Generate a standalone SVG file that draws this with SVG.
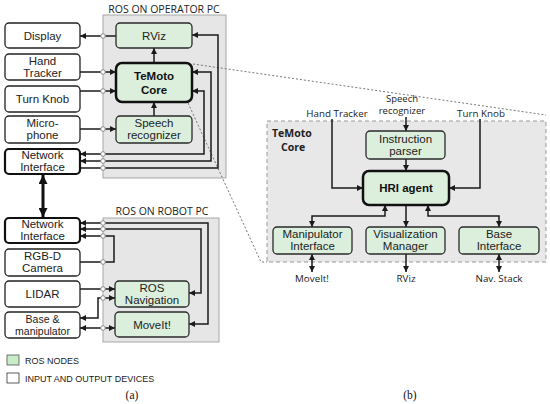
<svg xmlns="http://www.w3.org/2000/svg" width="550" height="404" viewBox="0 0 550 404">
<style>
.bg{fill:#fff}
.panel{fill:#e6e6e6;stroke:#a8a8a8;stroke-width:1}
.dev{fill:#fff;stroke:#222;stroke-width:1.3}
.devb{fill:#fff;stroke:#111;stroke-width:2.2}
.ros{fill:#dcefdc;stroke:#2a2a2a;stroke-width:1.3}
.rosb{fill:#dcefdc;stroke:#111;stroke-width:2.5}
.t{font-family:"Liberation Sans",Arial,sans-serif;font-size:11.5px;fill:#222;text-anchor:middle}
.tb{font-family:"Liberation Sans",Arial,sans-serif;font-size:11.5px;font-weight:bold;fill:#111;text-anchor:middle}
.title{font-family:"Open Sans",sans-serif;font-size:10.5px;fill:#222;text-anchor:middle}
.ext{font-family:"Open Sans",sans-serif;font-size:9.8px;fill:#222;text-anchor:middle}
.leg{font-family:"Liberation Sans",Arial,sans-serif;font-size:9px;fill:#222}
.cap{font-family:"Liberation Serif","Times New Roman",serif;font-size:11.5px;fill:#111;text-anchor:middle}
.c{fill:none;stroke:#1a1a1a;stroke-width:1.5}
.c1{fill:none;stroke:#1a1a1a;stroke-width:1.5;marker-end:url(#ah)}
.c2{fill:none;stroke:#1a1a1a;stroke-width:1.5;marker-start:url(#ah);marker-end:url(#ah)}
.dot{fill:none;stroke:#777;stroke-width:1;stroke-dasharray:2,2}
.pt{fill:#fff;stroke:#8a8a8a;stroke-width:1}
</style>
<defs>
<marker id="ah" viewBox="0 0 10 10" refX="10" refY="5" markerWidth="6" markerHeight="6" markerUnits="userSpaceOnUse" orient="auto-start-reverse">
<path d="M0,0 L10,5 L0,10 z" fill="#1a1a1a"/>
</marker>
<marker id="ahb" viewBox="0 0 10 10" refX="10" refY="5" markerWidth="9" markerHeight="9" markerUnits="userSpaceOnUse" orient="auto-start-reverse">
<path d="M0,0 L10,5 L0,10 z" fill="#111"/>
</marker>
</defs>
<rect class="bg" x="0" y="0" width="550" height="404"/>

<g id="panel-operator">
<rect class="panel" x="103" y="15" width="123" height="163"/>
<text class="title" x="164" y="13">ROS ON OPERATOR PC</text>
</g>
<g id="panel-robot">
<rect class="panel" x="103" y="218" width="116" height="124"/>
<text class="title" x="162" y="215">ROS ON ROBOT PC</text>
</g>
<g id="temoto-core-detail">
<rect x="267" y="121" width="279" height="141" fill="#e8e8e8" stroke="#999" stroke-width="1" stroke-dasharray="4,3"/>
<text x="272" y="137" font-family="Open Sans,sans-serif" font-size="10.5px" font-weight="bold" fill="#222">TeMoto</text>
<text x="281" y="151" font-family="Open Sans,sans-serif" font-size="10.5px" font-weight="bold" fill="#222">Core</text>
</g>

<g id="zoom-lines">
<path class="dot" d="M193,64 L546,115"/>
<path class="dot" d="M188,103 L261,262 H267"/>
</g>

<g id="connectors">
<path class="c1" d="M116,36 H80"/>
<path class="c1" d="M80,72 H116"/>
<path class="c1" d="M80,91 H116"/>
<path class="c1" d="M80,129 H116"/>
<path class="c1" d="M80,168 H218 V35 H192"/>
<path class="c2" d="M80,161 H211 V72 H192"/>
<path class="c2" d="M80,154 H204 V91 H192"/>
<path class="c1" d="M154,63 V48"/>
<path class="c1" d="M154,116 V102"/>
<path d="M43,175 V217" fill="none" stroke="#111" stroke-width="3" marker-start="url(#ahb)" marker-end="url(#ahb)"/>
<path class="c2" d="M80,223 H208 V324 H189"/>
<path class="c2" d="M80,229 H201 V293 H189"/>
<path class="c1" d="M80,262 H114 V236 H80"/>
<path class="c1" d="M80,289 H115"/>
<path class="c2" d="M115,298 H98 V318 H80"/>
<path class="c2" d="M80,328 H115"/>
<path class="c1" d="M332,119 V188 H363"/>
<path class="c1" d="M480,119 V188 H449"/>
<path class="c1" d="M406,117 V131"/>
<path class="c1" d="M406,159 V171"/>
<path class="c2" d="M385,205 V216 H312 V227"/>
<path class="c1" d="M406,205 V227"/>
<path class="c2" d="M428,205 V216 H499 V227"/>
<path class="c2" d="M312,254 V272"/>
<path class="c1" d="M406,254 V272"/>
<path class="c2" d="M499,254 V272"/>
<g id="ports">
<circle class="pt" cx="103" cy="36" r="2.3"/>
<circle class="pt" cx="103" cy="72" r="2.3"/>
<circle class="pt" cx="103" cy="91" r="2.3"/>
<circle class="pt" cx="103" cy="129" r="2.3"/>
<circle class="pt" cx="103" cy="154" r="2.3"/>
<circle class="pt" cx="103" cy="161" r="2.3"/>
<circle class="pt" cx="103" cy="168" r="2.3"/>
<circle class="pt" cx="103" cy="223" r="2.3"/>
<circle class="pt" cx="103" cy="229" r="2.3"/>
<circle class="pt" cx="103" cy="236" r="2.3"/>
<circle class="pt" cx="103" cy="262" r="2.3"/>
<circle class="pt" cx="103" cy="289" r="2.3"/>
<circle class="pt" cx="103" cy="298" r="2.3"/>
<circle class="pt" cx="103" cy="328" r="2.3"/>
</g>
</g>

<g id="display"><rect class="dev" x="5" y="23" width="75" height="25" rx="4"/><text class="t" x="42.5" y="40">Display</text></g>
<g id="hand-tracker"><rect class="dev" x="5" y="54" width="75" height="26" rx="4"/><text class="t" x="42.5" y="65">Hand</text><text class="t" x="42.5" y="77">Tracker</text></g>
<g id="turn-knob"><rect class="dev" x="5" y="86" width="75" height="26" rx="4"/><text class="t" x="42.5" y="103">Turn Knob</text></g>
<g id="microphone"><rect class="dev" x="5" y="116" width="75" height="27" rx="4"/><text class="t" x="42.5" y="127">Micro-</text><text class="t" x="42.5" y="139">phone</text></g>
<g id="network-interface-op"><rect class="devb" x="5" y="149" width="75" height="25" rx="4"/><text class="t" x="42.5" y="159">Network</text><text class="t" x="42.5" y="171">Interface</text></g>

<g id="rviz"><rect class="ros" x="116" y="23" width="76" height="25" rx="4"/><text class="t" x="154" y="40">RViz</text></g>
<g id="temoto-core"><rect class="rosb" x="116" y="63" width="76" height="39" rx="6"/><text class="tb" x="154" y="80">TeMoto</text><text class="tb" x="154" y="94">Core</text></g>
<g id="speech-recognizer"><rect class="ros" x="116" y="116" width="76" height="27" rx="4"/><text class="t" x="154" y="127">Speech</text><text class="t" x="154" y="139">recognizer</text></g>

<g id="network-interface-robot"><rect class="devb" x="5" y="218" width="75" height="25" rx="4"/><text class="t" x="42.5" y="228">Network</text><text class="t" x="42.5" y="240">Interface</text></g>
<g id="rgbd-camera"><rect class="dev" x="5" y="249" width="75" height="27" rx="4"/><text class="t" x="42.5" y="260">RGB-D</text><text class="t" x="42.5" y="272">Camera</text></g>
<g id="lidar"><rect class="dev" x="5" y="281" width="75" height="26" rx="4"/><text class="t" x="42.5" y="298">LIDAR</text></g>
<g id="base-manipulator"><rect class="dev" x="5" y="312" width="75" height="26" rx="4"/><text class="t" x="42.5" y="323" style="font-size:10.5px">Base &amp;</text><text class="t" x="42.5" y="335" style="font-size:10.5px">manipulator</text></g>
<g id="ros-navigation"><rect class="ros" x="115" y="281" width="74" height="26" rx="4"/><text class="t" x="152" y="292">ROS</text><text class="t" x="152" y="304">Navigation</text></g>
<g id="moveit"><rect class="ros" x="115" y="312" width="74" height="25" rx="4"/><text class="t" x="152" y="329">MoveIt!</text></g>

<g id="instruction-parser"><rect class="ros" x="366" y="131" width="79" height="28" rx="4"/><text class="t" x="405.5" y="143">Instruction</text><text class="t" x="405.5" y="155">parser</text></g>
<g id="hri-agent"><rect class="rosb" x="363" y="171" width="86" height="34" rx="6"/><text class="tb" x="406" y="192">HRI agent</text></g>
<g id="manipulator-interface"><rect class="ros" x="273" y="227" width="79" height="27" rx="4"/><text class="t" x="312.5" y="238">Manipulator</text><text class="t" x="312.5" y="250">Interface</text></g>
<g id="visualization-manager"><rect class="ros" x="366" y="227" width="79" height="27" rx="4"/><text class="t" x="405.5" y="238">Visualization</text><text class="t" x="405.5" y="250">Manager</text></g>
<g id="base-interface"><rect class="ros" x="459" y="227" width="80" height="27" rx="4"/><text class="t" x="499" y="238">Base</text><text class="t" x="499" y="250">Interface</text></g>

<g id="ext-labels">
<text class="ext" x="337" y="117">Hand Tracker</text>
<text class="ext" x="402" y="102" style="font-size:9.5px">Speech</text>
<text class="ext" x="402" y="114" style="font-size:9.5px">recognizer</text>
<text class="ext" x="481" y="117">Turn Knob</text>
<text class="ext" x="312" y="282">MoveIt!</text>
<text class="ext" x="406" y="282">RViz</text>
<text class="ext" x="499" y="282">Nav. Stack</text>
</g>

<g id="legend">
<rect x="7" y="355" width="12" height="10" fill="#c8ebc8" stroke="#555" stroke-width="0.8"/>
<text class="leg" x="25" y="363.5">ROS NODES</text>
<rect x="7" y="373" width="12" height="10" fill="#fff" stroke="#333" stroke-width="0.8"/>
<text class="leg" x="25" y="381.5">INPUT AND OUTPUT DEVICES</text>
</g>
<text class="cap" x="132" y="399">(a)</text>
<text class="cap" x="410" y="399">(b)</text>
</svg>
